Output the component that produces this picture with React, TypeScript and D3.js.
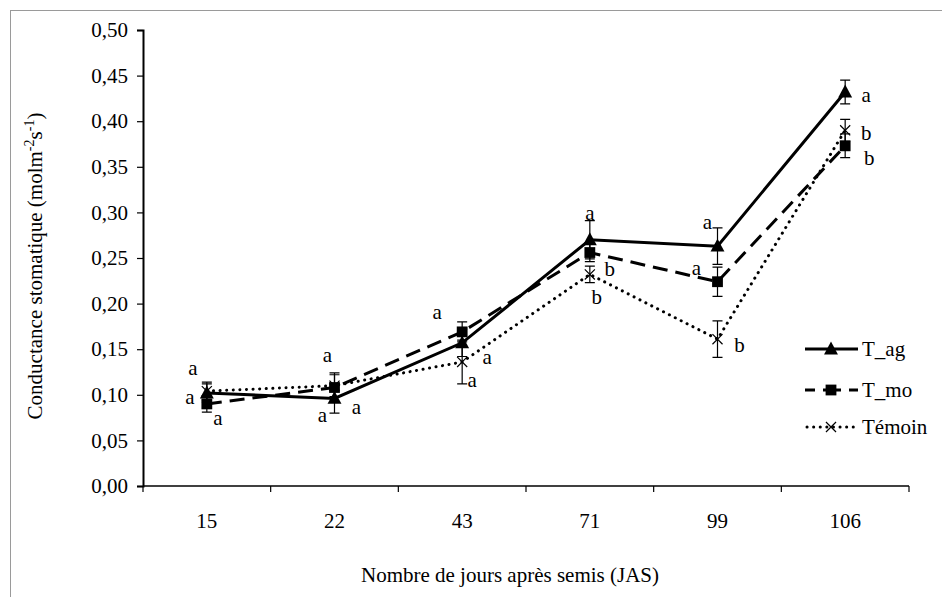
import React, { useEffect, useRef } from "react";
import * as d3 from "d3";

const days = ["15", "22", "43", "71", "99", "106"];
const yTicks = [0, 0.05, 0.1, 0.15, 0.2, 0.25, 0.3, 0.35, 0.4, 0.45, 0.5];

const tagValues = [0.102, 0.096, 0.157, 0.27, 0.263, 0.432];
const tagErrors = [0.01, 0.016, 0.015, 0.021, 0.02, 0.013];
const tagLetters = ["a", "a", "a", "a", "a", "a"];

const tmoValues = [0.09, 0.108, 0.169, 0.256, 0.224, 0.373];
const tmoErrors = [0.009, 0.016, 0.011, 0.01, 0.016, 0.013];
const tmoLetters = ["a", "a", "a", "b", "a", "b"];

const temValues = [0.104, 0.11, 0.136, 0.232, 0.161, 0.39];
const temErrors = [0.01, 0.012, 0.024, 0.009, 0.02, 0.012];
const temLetters = ["a", "a", "a", "b", "b", "b"];

// letter offsets (px) from each point
const tagOffsets = [[-17, 4], [-12, 17], [25, 14], [0, -27], [-10, -24], [21, 3]];
const tmoOffsets = [[11, 14], [-7, -33], [-25, -20], [20, 16], [-21, -14], [24, 12]];
const temOffsets = [[-14, -23], [22, 21], [10, 18], [7, 23], [22, 6], [21, 3]];

const series = [
  { name: "T_ag", values: tagValues, errors: tagErrors, letters: tagLetters, offsets: tagOffsets, dash: null, width: 3, marker: "triangle" },
  { name: "T_mo", values: tmoValues, errors: tmoErrors, letters: tmoLetters, offsets: tmoOffsets, dash: "15,8", width: 3, marker: "square" },
  { name: "Témoin", values: temValues, errors: temErrors, letters: temLetters, offsets: temOffsets, dash: "0.1,6.5", width: 3, marker: "cross" },
];

const W = 942;
const H = 597;
const margin = { left: 143, right: 33, top: 30, bottom: 111 };
const FONT = "Liberation Serif, DejaVu Serif, Times New Roman, serif";
const FS = 21;

function drawMarker(g: any, type: string, x: number, y: number, size: number) {
  if (type === "triangle") {
    const s = size;
    g.append("path")
      .attr("d", `M${x},${y - s * 0.62}L${x + s * 0.58},${y + s * 0.45}L${x - s * 0.58},${y + s * 0.45}Z`)
      .attr("fill", "#000");
  } else if (type === "square") {
    const s = size * 0.9;
    g.append("rect")
      .attr("x", x - s / 2)
      .attr("y", y - s / 2)
      .attr("width", s)
      .attr("height", s)
      .attr("fill", "#000");
  } else {
    const s = size * 0.42;
    g.append("path")
      .attr("d", `M${x - s},${y - s}L${x + s},${y + s}M${x - s},${y + s}L${x + s},${y - s}`)
      .attr("stroke", "#000")
      .attr("stroke-width", 1.2)
      .attr("fill", "none");
  }
}

const App: React.FC = () => {
  const svgRef = useRef<SVGSVGElement | null>(null);

  useEffect(() => {
    const svg = d3.select(svgRef.current);
    svg.selectAll("*").remove();
    svg.attr("font-family", FONT);

    const x = d3
      .scaleBand()
      .domain(days)
      .range([margin.left, W - margin.right])
      .padding(0);
    const y = d3.scaleLinear().domain([0, 0.5]).range([H - margin.bottom, margin.top]);
    const cx = (d: string) => x(d)! + x.bandwidth() / 2;

    // outer frame
    svg.append("rect")
      .attr("x", 10.5)
      .attr("y", 10.5)
      .attr("width", 960)
      .attr("height", 620)
      .attr("fill", "none")
      .attr("stroke", "#9a9a9a")
      .attr("stroke-width", 1);

    // y axis
    const yAxis = d3
      .axisLeft(y)
      .tickValues(yTicks)
      .tickSize(6)
      .tickFormat((d: any) => d3.format(".2f")(d).replace(".", ","));
    const yg = svg.append("g").attr("transform", `translate(${margin.left},0)`).call(yAxis as any);
    yg.attr("font-family", FONT).attr("font-size", FS);
    yg.select(".domain").attr("stroke", "#000").attr("stroke-width", 2);
    yg.selectAll(".tick line").attr("stroke", "#000").attr("stroke-width", 1.2);
    yg.selectAll(".tick text")
      .attr("x", -15)
      .attr("fill", "#000");

    // x axis
    const x0 = margin.left;
    const x1 = W - margin.right;
    const yb = y(0);
    svg.append("line")
      .attr("x1", x0)
      .attr("x2", x1)
      .attr("y1", yb)
      .attr("y2", yb)
      .attr("stroke", "#000")
      .attr("stroke-width", 1.5);
    const bounds = days.map((d) => x(d)!).concat([x1]);
    svg.selectAll("line.xtick")
      .data(bounds)
      .enter()
      .append("line")
      .attr("class", "xtick")
      .attr("x1", (d) => d)
      .attr("x2", (d) => d)
      .attr("y1", yb)
      .attr("y2", yb + 6)
      .attr("stroke", "#000")
      .attr("stroke-width", 1.2);
    svg.selectAll("text.xlabel")
      .data(days)
      .enter()
      .append("text")
      .attr("class", "xlabel")
      .attr("x", (d) => cx(d))
      .attr("y", 528)
      .attr("text-anchor", "middle")
      .attr("font-size", FS)
      .text((d) => d);

    // axis titles
    svg.append("text")
      .attr("x", 510)
      .attr("y", 582)
      .attr("text-anchor", "middle")
      .attr("font-size", FS)
      .text("Nombre de jours après semis (JAS)");

    const yt = svg.append("text")
      .attr("transform", `translate(42,266) rotate(-90)`)
      .attr("text-anchor", "middle")
      .attr("font-size", FS);
    yt.append("tspan").text("Conductance stomatique (molm");
    yt.append("tspan").attr("dy", -8).attr("font-size", 14).text("-2");
    yt.append("tspan").attr("dy", 8).text("s");
    yt.append("tspan").attr("dy", -8).attr("font-size", 14).text("-1");
    yt.append("tspan").attr("dy", 8).text(")");

    const line = d3
      .line<number>()
      .x((_, i) => cx(days[i]))
      .y((d) => y(d));

    series.forEach((s) => {
      const g = svg.append("g");
      g.append("path")
        .attr("d", line(s.values)!)
        .attr("fill", "none")
        .attr("stroke", "#000")
        .attr("stroke-width", s.width)
        .attr("stroke-linecap", s.marker === "cross" ? "round" : "butt")
        .attr("stroke-dasharray", s.dash);

      s.values.forEach((v, i) => {
        const px = cx(days[i]);
        const lo = y(v - s.errors[i]);
        const hi = y(v + s.errors[i]);
        g.append("path")
          .attr("d", `M${px},${lo}V${hi}M${px - 5},${lo}H${px + 5}M${px - 5},${hi}H${px + 5}`)
          .attr("stroke", "#000")
          .attr("stroke-width", 1.2)
          .attr("fill", "none");
        drawMarker(g, s.marker, px, y(v), 12);
        g.append("text")
          .attr("x", px + s.offsets[i][0])
          .attr("y", y(v) + s.offsets[i][1])
          .attr("text-anchor", "middle")
          .attr("dominant-baseline", "central")
          .attr("font-size", FS)
          .text(s.letters[i]);
      });
    });

    // legend
    const legY = [349, 390, 427];
    series.forEach((s, i) => {
      const g = svg.append("g");
      const ly = legY[i];
      g.append("line")
        .attr("x1", s.marker === "cross" ? 807 : 805)
        .attr("x2", 858)
        .attr("y1", ly)
        .attr("y2", ly)
        .attr("stroke", "#000")
        .attr("stroke-width", s.width)
        .attr("stroke-linecap", s.marker === "cross" ? "round" : "butt")
        .attr("stroke-dasharray", s.marker === "square" ? "10,8,18,8,10" : s.dash);
      drawMarker(g, s.marker, 831, ly, 12);
      g.append("text")
        .attr("x", 862)
        .attr("y", ly)
        .attr("dominant-baseline", "central")
        .attr("font-size", FS)
        .text(s.name);
    });
  }, []);

  return (
    <div style={{ position: "absolute", left: 0, top: 0 }}>
      <svg ref={svgRef} width={W} height={H} style={{ display: "block", background: "#fff" }} />
    </div>
  );
};

export default App;
